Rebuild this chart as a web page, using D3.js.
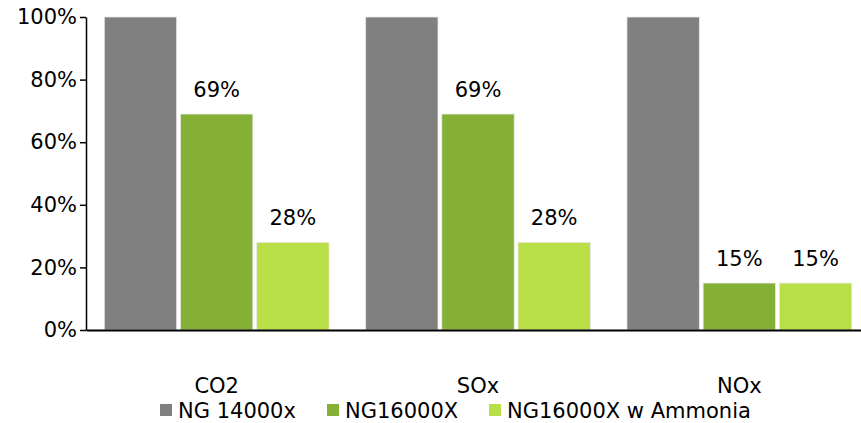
<!DOCTYPE html>
<html><head><meta charset="utf-8">
<script src="https://cdn.jsdelivr.net/npm/d3@7"></script>
<style>
body{margin:0;background:#fff;}
svg text{font-family:"DejaVu Sans",sans-serif;fill:#000;font-size:21px;}
</style></head><body>
<svg id="c" width="861" height="423"></svg>
<script>
const categories = ["CO2","SOx","NOx"];
const seriesNames = ["NG 14000x","NG16000X","NG16000X w Ammonia"];
const seriesColors = ["#808080","#84b135","#b8df45"];
const values = {
  "NG 14000x": [1.00, 1.00, 1.00],
  "NG16000X": [0.69, 0.69, 0.15],
  "NG16000X w Ammonia": [0.28, 0.28, 0.15]
};
const showLabel = {
  "NG 14000x": false,
  "NG16000X": true,
  "NG16000X w Ammonia": true
};
const yTicks = [0,0.2,0.4,0.6,0.8,1.0];

const svg = d3.select("#c");
const x0 = d3.scaleBand().domain(categories).range([86,870]).paddingInner(0.14).paddingOuter(0.07);
const x1 = d3.scaleBand().domain(seriesNames).range([0,x0.bandwidth()]).paddingInner(0.05);
const y = d3.scaleLinear().domain([0,1]).range([330,17]);

// y axis
const yAxis = svg.append("g").attr("transform","translate(86,0)")
  .call(d3.axisLeft(y).tickValues(yTicks).tickFormat(d3.format(".0%")).tickSize(6).tickSizeOuter(0));
yAxis.attr("font-family",null).attr("font-size",null);
yAxis.select(".domain").attr("stroke","#000").attr("stroke-width",1.5);
yAxis.selectAll(".tick line").attr("stroke","#000").attr("stroke-width",1.5);
yAxis.selectAll(".tick text").attr("x",-9);

// bars
const g = svg.append("g");
categories.forEach((c,i)=>{
  seriesNames.forEach((s,j)=>{
    const v = values[s][i];
    g.append("rect")
      .attr("x", x0(c)+x1(s))
      .attr("y", y(v))
      .attr("width", x1.bandwidth())
      .attr("height", y(0)-y(v))
      .attr("fill", seriesColors[j])
      .attr("stroke","#e8e8e8").attr("stroke-width",0.8);
    if(showLabel[s]){
      g.append("text")
        .attr("x", x0(c)+x1(s)+x1.bandwidth()/2)
        .attr("y", y(v)-17)
        .attr("text-anchor","middle")
        .text(d3.format(".0%")(v));
    }
  });
});

// x axis
const xAxis = svg.append("g").attr("transform",`translate(0,${y(0)})`)
  .call(d3.axisBottom(x0).tickSize(0).tickSizeOuter(0));
xAxis.attr("font-family",null).attr("font-size",null);
xAxis.select(".domain").attr("stroke","#000").attr("stroke-width",2);
xAxis.selectAll(".tick text").attr("dy","0").attr("y",63);

// legend
const legendX = [160,327,489];
const leg = svg.append("g");
seriesNames.forEach((s,j)=>{
  leg.append("rect").attr("x",legendX[j]).attr("y",404).attr("width",12).attr("height",12).attr("fill",seriesColors[j]);
  leg.append("text").attr("x",legendX[j]+18).attr("y",418).text(s);
});
</script>
</body></html>
